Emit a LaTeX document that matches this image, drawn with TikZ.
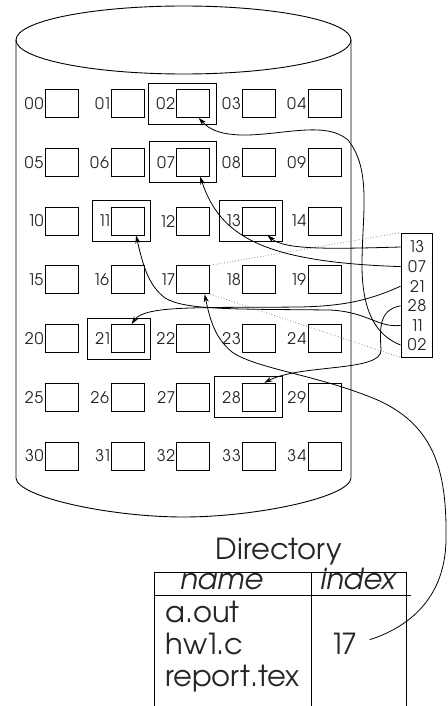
\documentclass[tikz,border=0pt]{standalone}
\usepackage{fontspec}
\setmainfont{texgyreadventor}[Extension=.otf,UprightFont=*-regular,ItalicFont=*-italic,BoldFont=*-bold,BoldItalicFont=*-bolditalic,Numbers=Proportional]
\usetikzlibrary{arrows.meta,fit}
\begin{document}
\begin{tikzpicture}[x=1pt,y=-1pt,
  line width=0.9pt,
  cell/.style={draw, minimum width=33pt, minimum height=28pt, inner sep=0pt},
  lab/.style={anchor=east, inner sep=0.6pt, text=black!85, font=\fontsize{16}{18}\selectfont},
  hl/.style={draw, inner sep=6pt},
  idxnum/.style={inner sep=0pt, text=black!85, font=\fontsize{16}{18}\selectfont},
  big/.style={inner sep=0pt, text=black!85, font=\fontsize{29}{31}\selectfont},
  bigit/.style={inner sep=0pt, text=black!85, font=\fontsize{29}{31}\selectfont\itshape},
  link/.style={-{Stealth[length=8pt,width=5pt]}, line width=0.8pt},
  guide/.style={dotted, black!45, line width=0.8pt},
  tbl/.style={line width=0.9pt}
]
\useasboundingbox (0,0) rectangle (447,706);

% cylinder
\draw (183.5,40) ellipse [x radius=167.5pt, y radius=34pt];
\draw (16,40) -- (16,478) .. controls (17,497) and (110,517) .. (183.5,517)
      .. controls (257,517) and (350,497) .. (351,478) -- (351,40);

% blocks
\foreach \r in {0,...,6}{
  \foreach \c in {0,...,4}{
    \pgfmathtruncatemacro{\n}{5*\r+\c}
    \edef\lab{\ifnum\n<10 0\fi\n}
    \node[cell] (b\lab) at ({62+65.7*\c},{103.5+58.75*\r}) {};
    \node[lab] (l\lab) at (b\lab.west) {\lab};
  }
}
\foreach \k in {02,07,11,13,21,28}
  \node[hl, fit=(l\k)(b\k)] (h\k) {};

% index block
\node[draw, minimum width=31pt, minimum height=124pt, inner sep=0pt] (idx) at (416.5,295) {};
\foreach \e [count=\k from 0] in {13,07,21,28,11,02}
  \node[idxnum] (i\e) at (417,{247+19.6*\k}) {\e};

\draw[guide] (b17.north east) -- (idx.north west);
\draw[guide] (b17.south east) -- (idx.south west);

% pointers
\draw[link] (idx.west |- i13) .. controls (330,249) and (285,250) .. (b13.-60);
\draw[link] (idx.west |- i07) .. controls (260,262) and (220,235) .. (b07.-65);
\draw[link] (idx.west |- i21) .. controls (370,300) and (345,306) .. (300,307)
      .. controls (200,308) and (145,305) .. (b21.75);
\draw[link] (idx.west |- i28) .. controls (378,310) and (380,330) .. (381,350)
      .. controls (382,372) and (300,364) .. (b28.70);
\draw[link] (idx.west |- i11) .. controls (378,328) and (368,312) .. (330,310)
      .. controls (230,309) and (185,310) .. (165,298)
      .. controls (148,285) and (143,265) .. (b11.-60);
\draw[link] (idx.west |- i02) .. controls (375,335) and (362,310) .. (362,265)
      .. controls (362,215) and (372,170) .. (348,140)
      .. controls (325,120) and (280,136) .. (240,135)
      .. controls (220,134) and (210,130) .. (b02.-70);

% directory
\node[big, anchor=base] (dirlabel) at (279,559) {Directory};
\draw[tbl] (154,706) -- (154,572) -- (406,572) -- (406,706);
\draw[tbl] (311,572) -- (311,706);
\draw[tbl] (154,595) -- (411,595);
\node[bigit, anchor=base] (hname) at (222,589) {name};
\node[bigit, anchor=base] (hindex) at (358,589) {index};
\node[big, anchor=base west] (faout) at (165,622) {a.out};
\node[big, anchor=base west] (fhw) at (165,654) {hw1.c};
\node[big, anchor=base west] (freport) at (165,686) {report.tex};
\node[big, anchor=base west] (d17) at (332,654) {17};

\draw[link, shorten <=12pt] (d17.east) .. controls (400,630) and (445,605) .. (446,540)
      .. controls (447,470) and (435,420) .. (365,395)
      .. controls (310,374) and (255,368) .. (232,352)
      .. controls (215,338) and (210,320) .. (b17.-52);
\end{tikzpicture}
\end{document}
